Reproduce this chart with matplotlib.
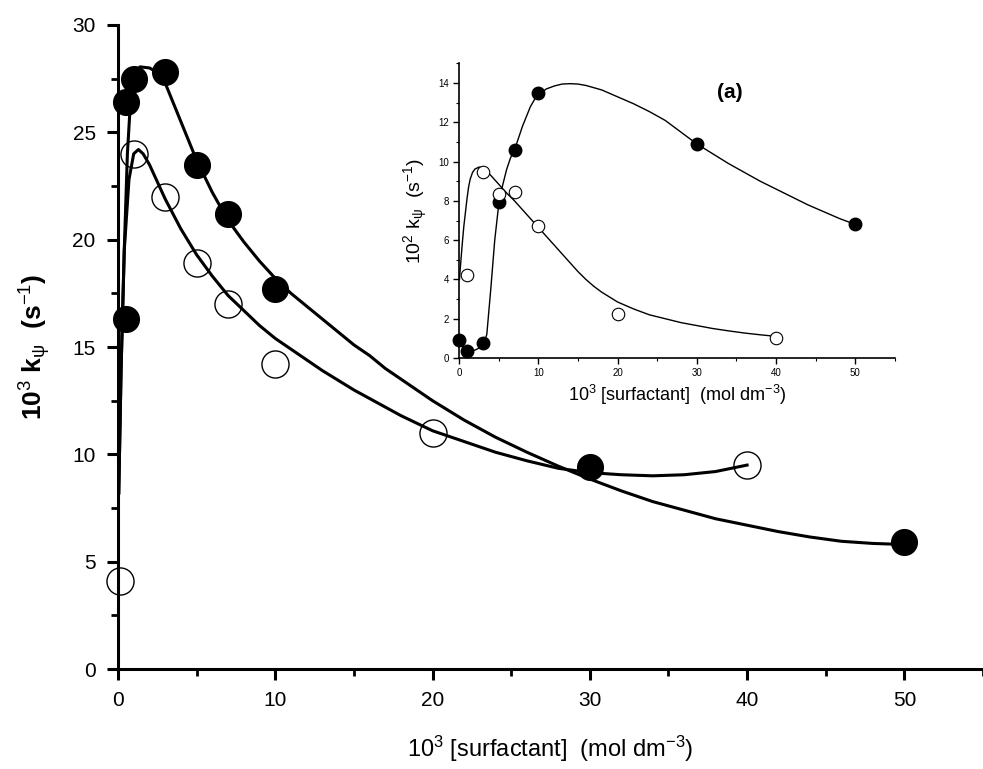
import matplotlib

matplotlib.use("Agg")
import matplotlib.pyplot as plt
from matplotlib.ticker import MultipleLocator

plt.rcParams["font.family"] = ["Liberation Sans", "DejaVu Sans"]
plt.rcParams["mathtext.fontset"] = "custom"
plt.rcParams["mathtext.rm"] = "Liberation Sans"
plt.rcParams["mathtext.it"] = "Liberation Sans"
plt.rcParams["mathtext.bf"] = "Liberation Sans:bold"

# main panel: 10^3 k_psi (s^-1)
main_x_filled = [0.5, 0.5, 1, 3, 5, 7, 10, 30, 50]
main_y_filled = [16.3, 26.4, 27.5, 27.8, 23.5, 21.2, 17.7, 9.4, 5.9]
main_x_open = [0.1, 1, 3, 5, 7, 10, 20, 40]
main_y_open = [4.1, 24.0, 22.0, 18.9, 17.0, 14.2, 11.0, 9.5]

# fitted curves
fit_x_filled = [0.05, 0.2, 0.4, 0.6, 0.8, 1.0, 1.4, 2.0, 2.5, 3.0, 3.5, 4.0, 4.5, 5.0, 6.0, 7.0,
                8.0, 9.0, 10, 11, 12, 13, 14, 15, 16, 17, 18, 19, 20, 22, 24, 26, 28, 30, 32,
                34, 36, 38, 40, 42, 44, 46, 48, 50]
fit_y_filled = [8.2, 14.0, 19.5, 24.0, 26.5, 27.6, 28.05, 28.0, 27.8, 27.3, 26.4, 25.5, 24.6,
                23.7, 22.2, 20.9, 19.9, 19.0, 18.2, 17.5, 16.9, 16.3, 15.7, 15.1, 14.6, 14.0,
                13.5, 13.0, 12.5, 11.6, 10.8, 10.1, 9.45, 8.85, 8.3, 7.8, 7.4, 7.0, 6.7, 6.4,
                6.15, 5.95, 5.85, 5.8]
fit_x_open = [0.05, 0.2, 0.4, 0.7, 1.0, 1.3, 1.6, 2.0, 3, 4, 5, 6, 7, 8, 9, 10, 11, 12, 13, 14,
              15, 16, 17, 18, 19, 20, 22, 24, 26, 28, 30, 32, 34, 36, 38, 40]
fit_y_open = [8.2, 14.0, 19.5, 22.8, 24.0, 24.2, 24.0, 23.5, 21.9, 20.5, 19.3, 18.3, 17.4, 16.7,
              16.0, 15.4, 14.9, 14.4, 13.9, 13.45, 13.0, 12.6, 12.2, 11.8, 11.45, 11.1, 10.6,
              10.1, 9.7, 9.35, 9.15, 9.05, 9.0, 9.05, 9.2, 9.5]

# inset (a): 10^2 k_psi (s^-1)
ins_x_filled = [0, 1, 3, 5, 7, 10, 30, 50]
ins_y_filled = [0.9, 0.35, 0.75, 7.95, 10.6, 13.5, 10.9, 6.8]
ins_x_open = [1, 3, 5, 7, 10, 20, 40]
ins_y_open = [4.25, 9.45, 8.35, 8.45, 6.7, 2.25, 1.0]

ins_fit_x_filled = [0.05, 0.5, 1, 2, 3, 3.5, 4, 4.5, 5, 5.5, 6, 6.5, 7, 7.5, 8, 8.5, 9, 9.5, 10,
                    11, 12, 13, 14, 15, 16, 18, 20, 22, 24, 26, 28, 30, 32, 34, 36, 38, 40, 42,
                    44, 46, 48, 50]
ins_fit_y_filled = [1.0, 0.5, 0.3, 0.4, 0.6, 1.2, 3.5, 6.0, 7.8, 8.8, 9.6, 10.2, 10.6, 11.2, 11.8,
                    12.3, 12.8, 13.15, 13.4, 13.7, 13.85, 13.95, 13.97, 13.95, 13.88, 13.65, 13.3,
                    12.95, 12.55, 12.1, 11.5, 10.9, 10.4, 9.9, 9.45, 9.0, 8.6, 8.2, 7.8, 7.45,
                    7.1, 6.8]
ins_fit_x_open = [0.05, 0.2, 0.4, 0.6, 0.8, 1.0, 1.2, 1.4, 1.7, 2.0, 2.5, 3, 3.5, 4, 5, 6, 7, 8,
                  9, 10, 11, 12, 13, 14, 15, 16, 17, 18, 19, 20, 22, 24, 26, 28, 30, 32, 34, 36,
                  38, 40]
ins_fit_y_open = [4.0, 4.8, 5.8, 6.7, 7.4, 8.1, 8.7, 9.1, 9.45, 9.62, 9.72, 9.7, 9.5, 9.3, 8.85,
                  8.4, 8.0, 7.55, 7.1, 6.65, 6.2, 5.75, 5.3, 4.85, 4.4, 4.0, 3.65, 3.35, 3.1, 2.85,
                  2.5, 2.2, 2.0, 1.8, 1.65, 1.5, 1.38, 1.27, 1.18, 1.1]

fig = plt.figure(figsize=(9.83, 7.69), dpi=100)
ax = fig.add_axes([0.120, 0.130, 0.880, 0.8375])

ax.plot(fit_x_filled, fit_y_filled, color="black", lw=2.2, zorder=2)
ax.plot(fit_x_open, fit_y_open, color="black", lw=2.2, zorder=2)
ax.plot(main_x_filled, main_y_filled, "o", color="black", ms=18.5, zorder=3, clip_on=False)
ax.plot(main_x_open, main_y_open, "o", mfc="none", mec="black", mew=1.0, ms=19.5, zorder=3,
        clip_on=False)

ax.set_xlim(0, 55)
ax.set_ylim(0, 30)
ax.xaxis.set_major_locator(MultipleLocator(10))
ax.xaxis.set_minor_locator(MultipleLocator(5))
ax.yaxis.set_major_locator(MultipleLocator(5))
ax.yaxis.set_minor_locator(MultipleLocator(2.5))
for side in ["top", "right"]:
    ax.spines[side].set_visible(False)
for side in ["left", "bottom"]:
    ax.spines[side].set_linewidth(2.2)
ax.tick_params(which="major", direction="out", length=8, width=2.2, labelsize=15, pad=8)
ax.tick_params(which="minor", direction="out", length=5, width=2.0)
ax.set_xlabel(r"10$^3$ [surfactant]  (mol dm$^{-3}$)", fontsize=17, labelpad=17)
ax.set_ylabel(r"10$^3$ k$_\psi$  (s$^{-1}$)", fontsize=19, fontweight="bold", labelpad=14)

ins = fig.add_axes([0.467, 0.5345, 0.4435, 0.383])
ins.plot(ins_fit_x_filled, ins_fit_y_filled, color="black", lw=1.0)
ins.plot(ins_fit_x_open, ins_fit_y_open, color="black", lw=1.0)
ins.plot(ins_x_filled, ins_y_filled, "o", color="black", ms=9, clip_on=False, zorder=3)
ins.plot(ins_x_open, ins_y_open, "o", mfc="white", mec="black", mew=0.8, ms=9, clip_on=False,
         zorder=3)
ins.set_xlim(0, 55)
ins.set_ylim(0, 15)
ins.xaxis.set_major_locator(MultipleLocator(10))
ins.xaxis.set_minor_locator(MultipleLocator(5))
ins.yaxis.set_minor_locator(MultipleLocator(1))
ins.set_yticks(range(0, 15, 2))
ins.patch.set_alpha(0)
for side in ["top", "right"]:
    ins.spines[side].set_visible(False)
for side in ["left", "bottom"]:
    ins.spines[side].set_linewidth(1.2)
ins.tick_params(which="major", direction="out", length=4, width=1.0, labelsize=7, pad=3)
ins.tick_params(which="minor", direction="out", length=2.5, width=0.8)
ins.set_xlabel(r"10$^3$ [surfactant]  (mol dm$^{-3}$)", fontsize=13, labelpad=4)
ins.set_ylabel(r"10$^2$ k$_\psi$  (s$^{-1}$)", fontsize=14, labelpad=6)
ins.text(0.62, 0.9, "(a)", transform=ins.transAxes, fontsize=15, fontweight="bold",
         ha="center", va="center")

fig.savefig("out.png", dpi=100)
